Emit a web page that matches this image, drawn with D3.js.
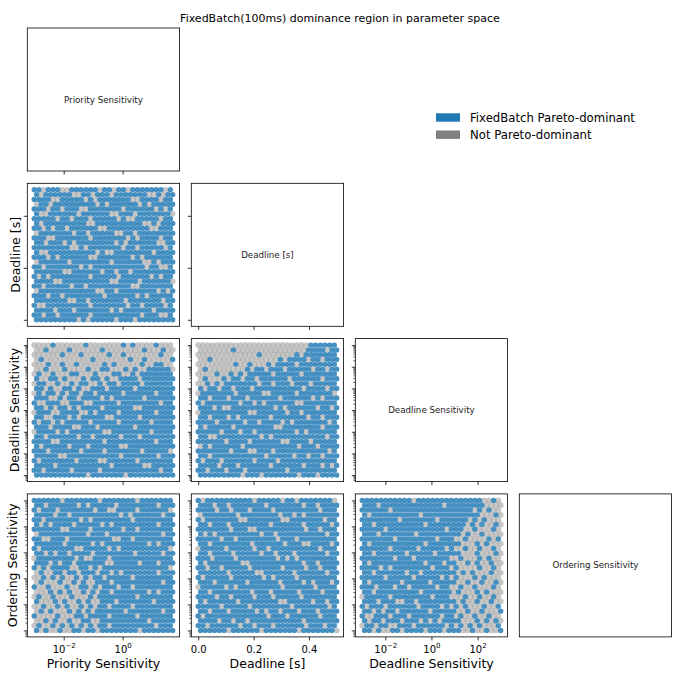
<!DOCTYPE html>
<html>
<head>
<meta charset="utf-8">
<style>
  body { margin: 0; background: #fff; }
  svg { display: block; font-family: 'DejaVu Sans', sans-serif; }
</style>
</head>
<body>
<svg width="680" height="680"></svg>
<script src="https://cdn.jsdelivr.net/npm/d3@7"></script>
<script>
let title = "FixedBatch(100ms) dominance region in parameter space"
let params = ["Priority Sensitivity", "Deadline [s]", "Deadline Sensitivity", "Ordering Sensitivity"]
let paramLow = [1e-3, 0, 1e-3, 1e-3]
let paramHigh = [50, 0.5, 1e3, 1e2]
let paramIsLog = [true, false, true, true]
let xTickValues = [[1e-2, 1], [0, 0.2, 0.4], [1e-2, 1, 1e2], []]
let yTickValues = [[], [0, 0.2, 0.4], [1e-3, 1e-2, 1e-1, 1, 1e1, 1e2, 1e3], [1e-3, 1e-2, 1e-1, 1, 1e1, 1e2]]
let legendLabels = ["FixedBatch Pareto-dominant", "Not Pareto-dominant"]

// binned samples, top row = high y value; "b" = FixedBatch Pareto-dominant, "." = not
let deadlineVsPriority = [
  "bb.bb b..bb bbbb. bb.bb .bbbb bbb.b",
  "b.bbb bbb.. bb.bb b.bbb bbbb. .b.bb",
  "bbbb. .bbbb b.b.b bbbbb b..bb bb.bb",
  ".bb.b bbbbb bbb.b .bbbb bb.b. bbbbb",
  "bbb.b b.bbb ..bbb bbbb. bbbbb b.b.b",
  "b..bb bbbb. bbbbb b..bb b.bbb bbbb.",
  "bbbbb .bb.b bb.bb bbb.b ..bbb bb.bb",
  "b.bbb bbbbb b..bb bbbbb bbb.. b.bbb",
  "bb.b. bb.bb bbbb. .bbbb bbbbb ..bbb",
  ".bbbb bbb.b b.bbb bb..b b.bbb bbbbb",
  "bbb.. bbbbb bb.bb bbbbb .b.bb bb.bb",
  "bb.bb b.b.b bbbbb bb.b. bbbbb b..bb",
  "bbbbb bbb.. b.bbb bbbb. bb.bb bbb.b",
  "b..bb bbbbb bbb.b ..bbb bbbbb .bbbb",
  "bbb.b .bbbb bb..b bbbbb b.b.b bbbbb",
  ".bbbb bb.bb bbbbb b.bbb bbb.. b.bbb",
  "bb.bb bbbbb .b.bb bbbbb bbbb. bb..b",
  "bbbbb b..bb bbbb. bb.bb .bbbb bbbbb",
  "b.b.b bbbbb bb.bb bbb.b bbbbb .b.bb",
  "bbbb. .bbbb bbbbb b..bb bb.bb bbbb.",
  "bb.bb bbb.b b.bbb bbbbb b..bb bbbbb",
  ".bbbb bbbbb bbb.. bb.bb bbbbb b.b.b",
  "bbb.b b.bbb bbbbb .bbbb bb.b. bbbbb",
  "bbbbb bb..b b.bbb bbbb. bbbbb bb.bb",
  "b..bb bbbbb bb.bb bbbbb .bb.b bbb.b",
  "bbbb. bbb.b bbbbb b.b.b bbbbb .bbbb",
  "bb.bb .bbbb bb.bb bbbbb bbb.b bb..b",
  "bbbbb bbbb. b.bbb bb.bb b.bbb bbbbb"
]
let deadlineSensVsPriority = [
  "....b ..... .b... ....b .b... .b...",
  "..b.. ..b.. ....b ..... ...b. ..b..",
  "..... .b... b.... .b..b ..... ..b..",
  ".b... ..... ..b.. ..... b..b. ....b",
  "...b. .b..b ..... b.b.. ...b. .bb..",
  "..b.. .b... .b..b b...b .b..b bbbb.",
  ".b..b ...bb ...b. ..bb. .b.bb bbbbb",
  "b..bb .b... b.bb. b..bb bb.bb bbbbb",
  ".bb.. b..b. bb..b .bb.b bbb.b bbbbb",
  "bb.b. .bb.b ..bbb .bbbb b.bbb bbbbb",
  ".b.bb .b.bb .bb.b bbbb. bbbbb b.bbb",
  "bbb.. b.bb. bbbb. b.bbb bbb.b bbbbb",
  "b..bb b..bb b..bb bbb.b bbbbb bb.bb",
  "bb.b. bb.b. bbbb. bbbbb b..bb bbbbb",
  ".bbb. .bbbb ..b.b bbb.b bbbbb b.bbb",
  "bb..b bb.b. bbbbb ..bbb bb.bb bbbbb",
  "b.bb. b.bbb bb.bb bbb.b bbbbb .bbbb",
  "bbb.b bbb.. bbb.b bbbbb b.bbb bbbbb",
  ".bbbb .b.bb bbbbb ..bbb bbbbb .bbbb",
  "bb.bb bbbb. bb.bb bbb.b bb.bb bbbbb",
  "bbbb. .bbbb bbbbb .bbbb bbbbb b.bbb",
  "b.bbb bb.bb b.bbb bbb.. bbbbb bbbbb",
  "bbb.b bbbbb .bbbb .bbbb bbb.b bbbb.",
  "bbbbb ..bbb bbbbb bbb.b bbbbb b.bbb",
  "b.bbb bbbb. bbbb. .bbbb bb.bb bbbbb",
  "bbbb. bbbbb bbbbb b.bbb bbb.. bbbbb",
  "bb.bb bbb.b bbbb. bbbbb bbbbb bb.bb",
  "bbbbb bbbbb b.bbb bbbb. bbbbb bbbbb"
]
let deadlineSensVsDeadline = [
  "..... ..... ..... ..... ....b bbbbb",
  "..... ..b.. ..... ..... ...bb bb.bb",
  "..... ..... ...b. ..... .b.bb bbbbb",
  "..b.. ..... ..... ..b.b bbb.b b.bbb",
  "..... ...b. .b... b.bbb b.bbb bbbbb",
  ".b... ..... b.bb. bbb.b bbbb. bb.bb",
  "....b ..b.b .bbbb b.bbb bb.bb bbbbb",
  ".b... b.bb. bb.bb bbbb. bbbbb b.bbb",
  "..b.b .bbbb bbb.b b.bbb .bbb. bbbbb",
  "b.bb. bb.bb b.bbb bbbbb bb.bb bb.bb",
  ".bbbb bbb.b bbbb. .bbbb b.bbb bbbb.",
  "bb.bb b.bbb .bbbb bb.bb bbbb. b.bbb",
  "b.bbb bbbb. bb.b. bbbbb b..bb bbbbb",
  "bbb.b ..bbb bbbbb b.b.b bbbbb .bb.b",
  ".bbbb bbbbb b..bb bbbb. bb.bb bbbbb",
  "bb.bb b.b.b bbbbb .bbbb bbb.b b.bbb",
  "bbbb. bbbbb .bb.b bbb.b .bbbb bbb.b",
  "b.bbb bb.bb bbbbb b..bb bbbbb b.bbb",
  "bbbbb .bbb. bb.bb bbbbb b.b.b bbbbb",
  "bb..b bbbbb bbb.b .bbbb bbbbb bb.bb",
  "bbbbb b.bbb b.bbb bbb.. bbbb. bbbbb",
  ".b.bb bbbb. bbbbb bbbbb b.bbb .bbbb",
  "bbbbb bb.bb b..bb b.bbb bbbbb bbb.b",
  "bb.bb bbbbb bbbb. bbbbb .bb.b b.bbb",
  "b.bbb .bbbb bb.bb bb.bb bbbbb bbbbb",
  "bbbb. bbb.b bbbbb .bbbb bb.bb b.b.b",
  "bb.bb b.bbb .bbbb bbbb. bbbbb bbbbb",
  "bbbbb bbbb. bbb.b bbbbb b.bbb .bbbb"
]
let orderingVsPriority = [
  "bbbbb b.bbb bbbb. bbbbb bb.bb bbbbb",
  "bb.bb bbbb. b.bbb bb.bb bbbbb b.bbb",
  "b.bbb .bbbb bbb.b b..bb bb.bb bbbb.",
  "bbbb. bb.bb bbbbb bbb.b .bbbb bb.bb",
  "bb.bb bbbbb .b.bb bbbbb b.bbb bbbbb",
  "b.b.b bbb.b bbbb. b.bbb bbbbb b.bbb",
  "bbbbb b..bb bb.bb bbbb. bb.bb bbbbb",
  ".bbbb bbbbb b.bbb .bbbb bbbbb bb.bb",
  "bb..b bb.bb bbbbb bb..b b.bbb bbbbb",
  "bbbbb b.bbb bb.b. bbbbb bbbb. b.bbb",
  "b.bbb bbbb. .bbbb b.b.b bbbbb bbbb.",
  "bb.b. bb.bb bb.bb bbbbb b.bbb bb.bb",
  ".bbbb bbbb. b..bb b.bbb bbbbb bbbbb",
  "bbb.b .bb.b bbbbb ..bbb bb.bb b.bbb",
  "b.b.b bbb.. bb.b. bbbbb bbbbb bbbb.",
  ".b..b b.bb. bbb.b b.b.b bbbbb b.bbb",
  "..b.b .b..b .b.bb .bbbb b.bbb bbbbb",
  ".b... b..b. b..bb b.bbb bbbbb bb.bb",
  "b..b. ..b.. bb.b. bbb.b b.bbb bbbbb",
  "...b. b.b.. b.b.b b.bbb bbbb. b.bbb",
  ".b..b ...b. ..b.b bbbbb bb.bb bbbbb",
  "b...b .b..b .b..b bb.bb bbbbb .bbbb",
  "..b.. b.b.. b.b.b b.bbb b.bbb bbbbb",
  ".b.b. ..b.b .b.bb bbbb. bbbbb bb.bb",
  "b.... b...b b.bbb b.bbb bb.bb bbbbb",
  "..b.b ..b.. bb..b bbbbb bbbb. bbbbb",
  ".b..b .b.b. b.b.b b.bbb bbbbb b.bbb",
  "b.b.. b..bb .bb.b bbbbb bb.bb bbbbb"
]
let orderingVsDeadline = [
  "b.bbb bbbbb bb.bb bbb.b b.bbb bbbb.",
  "bbb.b b.bbb bbbb. bbbbb bb.bb .bbbb",
  "bbbb. bb.bb b.bbb b.bbb bbbbb b.bbb",
  ".bbbb bbb.b bbbbb bb.bb .b.bb bbbbb",
  "b.bbb bbbb. .bbbb bbb.. bbbbb bb.bb",
  "bb.bb b.bbb bbbbb .bbbb bb.bb bbb.b",
  "bbbbb bb.bb b..bb bbbbb bbb.b b.bbb",
  "b.b.b bbbbb bbb.b b.bbb bbbbb bb.bb",
  "bbbbb .bb.b bbbbb bb.bb b.bbb bbbbb",
  "bb.bb bbbbb b.bbb bbb.b bb..b bbb.b",
  ".bbbb b.bbb bb.bb .bbbb bbbbb b.bbb",
  "bb.bb bb.bb bbb.b b.bbb .bbbb bb.bb",
  "bbb.b bbb.b bbbbb bb.b. b.bbb bbbbb",
  "b.bbb bbbb. .bbbb bbbbb bb.bb .bbbb",
  "bb.bb .bbbb b.bbb bbb.b bbb.b b.bbb",
  "bbbbb b.bbb bb..b bbbbb .bbbb bb.bb",
  "b.bbb bb.bb bbbb. b.bbb b.bbb bbbbb",
  "bbb.b bbbbb .bbbb bb.bb bb.b. bbb.b",
  ".bbbb b.b.b bbbbb bbb.b bbbbb .bbbb",
  "bb.bb bbbbb b.bbb .bbbb b.bbb b.bbb",
  "bbbb. bb.bb bb.bb b.bbb bb.bb bbbbb",
  "b.bbb bbb.b bbbbb bb..b bbbb. bb.bb",
  "bbbbb .bbbb b.bbb bbbbb .bbbb bbb.b",
  "bb.bb b.bbb bb.b. bb.bb b.bbb .bbbb",
  "b.bbb bbbbb bbbbb .bbb. bbbbb b.bbb",
  "bbbb. bb.bb .bbbb bbbbb bb.bb bbbbb",
  "bb.bb bbbb. bb.bb b.bbb bbb.b bb.bb",
  "bbbbb b.bbb bbb.b bbbbb b.bbb bbbb."
]
let orderingVsDeadlineSens = [
  "bbbbb bbbbb b.bbb bbbbb bbbbb b..b.",
  "bbb.b bbbbb bbbbb bb.bb bbbbb b....",
  "bbbbb b.bbb bbbbb bbbbb bbbb. b.b..",
  "b.bbb bbbbb bb.bb bbbbb bbbbb ...b.",
  "bbbbb bbb.b bbbbb b.bbb bbb.b .b...",
  "bb.bb bbbbb bbb.b bbbbb bb.b. b..b.",
  "bbbbb .bbbb bbbbb bbb.b bb..b ...b.",
  "bbb.b bbbbb b.bbb bbbbb b.b.. b....",
  "bbbbb bb.bb bbbbb b.bbb ..b.. ..b.b",
  "b.bbb bbbbb bbb.b bbbbb b...b .b...",
  "bbbbb b.bbb bb.bb bbb.b ..b.. b..b.",
  "bb.bb bbbb. bbbbb .bbbb b...b ...b.",
  "bbbbb bb.bb b.bbb bbbb. .b... b.b..",
  "b.bbb bbbbb bbb.b bb.bb ..b.b ..b..",
  "bbbb. b.bbb bbbbb .bbb. b.... b..b.",
  "bb.bb bbbb. bb.bb bbbbb .b.b. ..b..",
  "bbbbb .bbbb b.bbb bb.b. b...b .b...",
  "b.bbb bbb.b bbbb. bbbbb ..b.. b..b.",
  "bbb.b bb.bb .bbbb b.bb. .b..b ...b.",
  "bb.bb bbbbb bb.bb bbbb. b...b .b...",
  ".bbbb b.bbb bbbbb .bbb. ..b.. b..b.",
  "bbb.b bb..b b.bbb bbbbb .b..b ..b..",
  "b.bbb .bbbb bb.bb bb.b. b.b.. .b..b",
  "bb.b. bb.bb bbbb. bbbbb ..b.. b...b",
  "b..bb b.bbb .bbbb bb.bb .b..b ..b..",
  "b.bb. bbb.b bb.b. b.bbb b...b .b.b.",
  ".bb.b b..bb b.bbb bbb.b .b.b. b...b",
  "bb.b. .bb.b bbb.b bb.bb b..b. .b..b"
]

let panelGrids = {
  "1-0": deadlineVsPriority,
  "2-0": deadlineSensVsPriority,
  "2-1": deadlineSensVsDeadline,
  "3-0": orderingVsPriority,
  "3-1": orderingVsDeadline,
  "3-2": orderingVsDeadlineSens
}

let svg = d3.select("svg")
let leftX = 27.3, topY = 28
let cellW = 152.3, cellH = 143
let gapX = 11.7, gapY = 12.3
let blue = "#1f77b4", grey = "#808080"

function makeScale(p, range) {
  let lo = paramLow[p], hi = paramHigh[p]
  if (paramIsLog[p]) {
    let pad = Math.pow(hi / lo, 0.05)
    return d3.scaleLog().domain([lo / pad, hi * pad]).range(range)
  }
  let pad = (hi - lo) * 0.05
  return d3.scaleLinear().domain([lo - pad, hi + pad]).range(range)
}

// value of bin position t (0..1) along parameter p
function binValue(p, t) {
  let lo = paramLow[p], hi = paramHigh[p]
  return paramIsLog[p] ? lo * Math.pow(hi / lo, t) : lo + (hi - lo) * t
}

function minorTicks(scale) {
  let dom = scale.domain()
  let out = []
  for (let e = Math.floor(Math.log10(dom[0])); e <= Math.ceil(Math.log10(dom[1])); e++) {
    for (let m = 2; m < 10; m++) {
      let v = m * Math.pow(10, e)
      if (v >= dom[0] && v <= dom[1]) out.push(v)
    }
  }
  return out
}

function styleAxis(g, w) {
  g.select(".domain").remove()
  g.selectAll(".tick line").attr("stroke", "#000").attr("stroke-width", w)
}

for (let i = 0; i < 4; i++) {
  for (let j = 0; j <= i; j++) {
    let x0 = leftX + j * (cellW + gapX)
    let y0 = topY + i * (cellH + gapY)
    let x = makeScale(j, [x0, x0 + cellW])
    let y = makeScale(i, [y0 + cellH, y0])
    let g = svg.append("g")

    if (i != j) {
      let grid = panelGrids[i + "-" + j]
      let pts = []
      grid.forEach((row, r) => {
        let cells = row.split(" ").join("")
        let n = cells.length
        // alternate rows sit half a bin over, like the sampled lattice
        let shift = (r % 2) * 0.5
        cells.split("").forEach((c, k) => {
          pts.push({
            xv: binValue(j, (k + shift) / (n - 0.5)),
            yv: binValue(i, (grid.length - 1 - r) / (grid.length - 1)),
            dominant: c == "b"
          })
        })
      })
      g.append("g")
        .selectAll("circle")
        .data(pts.filter(d => !d.dominant))
        .join("circle")
        .attr("cx", d => x(d.xv))
        .attr("cy", d => y(d.yv))
        .attr("r", 2.9)
        .attr("fill", grey)
        .attr("fill-opacity", 0.45)
      g.append("g")
        .selectAll("circle")
        .data(pts.filter(d => d.dominant))
        .join("circle")
        .attr("cx", d => x(d.xv))
        .attr("cy", d => y(d.yv))
        .attr("r", 2.7)
        .attr("fill", blue)
        .attr("fill-opacity", 0.82)
    } else {
      g.append("text")
        .attr("x", x0 + cellW / 2)
        .attr("y", y0 + cellH / 2)
        .attr("dy", "0.35em")
        .attr("text-anchor", "middle")
        .attr("font-size", 8.7)
        .attr("fill", "#1a1a1a")
        .text(params[i])
    }

    // bottom ticks
    if (xTickValues[j].length) {
      let ax = g.append("g")
        .attr("transform", `translate(0,${y0 + cellH})`)
        .call(d3.axisBottom(x).tickValues(xTickValues[j]).tickSize(3.5).tickFormat(() => ""))
      styleAxis(ax, 0.8)
      if (i == 3) {
        ax.attr("font-family", "'DejaVu Sans', sans-serif").attr("font-size", 10)
        ax.selectAll(".tick text")
          .attr("y", 16)
          .attr("dy", 0)
          .attr("fill", "#000")
          .each(function (d) {
            let t = d3.select(this)
            if (paramIsLog[j]) {
              let e = Math.round(Math.log10(d))
              t.text("10")
              t.append("tspan").attr("dy", -4.5).attr("font-size", 7).text(e < 0 ? "\u2212" + (-e) : e)
            } else {
              t.text(d3.format(".1f")(d))
            }
          })
      }
    }

    // left ticks
    if (yTickValues[i].length && !(i == 3 && j == 3)) {
      let ay = g.append("g")
        .attr("transform", `translate(${x0},0)`)
        .call(d3.axisLeft(y).tickValues(yTickValues[i]).tickSize(3.5).tickFormat(() => ""))
      styleAxis(ay, 0.8)
      if (paramIsLog[i]) {
        let am = g.append("g")
          .attr("transform", `translate(${x0},0)`)
          .call(d3.axisLeft(y).tickValues(minorTicks(y)).tickSize(2).tickFormat(() => ""))
        styleAxis(am, 0.6)
      }
    }

    g.append("rect")
      .attr("x", x0)
      .attr("y", y0)
      .attr("width", cellW)
      .attr("height", cellH)
      .attr("fill", "none")
      .attr("stroke", "#000")
      .attr("stroke-width", 0.8)
  }
}

// axis labels
let xLabelBase = 668
for (let j = 0; j < 3; j++) {
  svg.append("text")
    .attr("x", leftX + j * (cellW + gapX) + cellW / 2)
    .attr("y", xLabelBase)
    .attr("text-anchor", "middle")
    .attr("font-size", 12.5)
    .text(params[j])
}
let yLabelX = [0, 19.5, 19, 17]
for (let i = 1; i < 4; i++) {
  let cy = topY + i * (cellH + gapY) + cellH / 2
  svg.append("text")
    .attr("transform", `translate(${yLabelX[i]},${cy}) rotate(-90)`)
    .attr("text-anchor", "middle")
    .attr("font-size", 12.5)
    .text(params[i])
}

svg.append("text")
  .attr("x", 340)
  .attr("y", 21.5)
  .attr("text-anchor", "middle")
  .attr("font-size", 11)
  .text(title)

let legend = svg.append("g")
legend.selectAll("rect")
  .data(legendLabels)
  .join("rect")
  .attr("x", 436)
  .attr("y", (d, k) => 113.3 + k * 17.2)
  .attr("width", 24)
  .attr("height", 8.4)
  .attr("fill", (d, k) => k == 0 ? blue : grey)
legend.selectAll("text")
  .data(legendLabels)
  .join("text")
  .attr("x", 470)
  .attr("y", (d, k) => 122 + k * 17.2)
  .attr("font-size", 11.7)
  .text(d => d)
</script>
</body>
</html>
